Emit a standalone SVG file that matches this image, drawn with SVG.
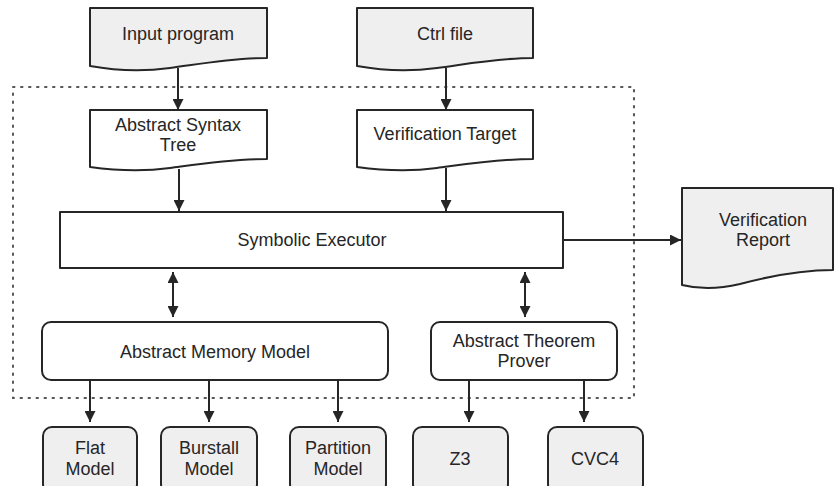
<svg xmlns="http://www.w3.org/2000/svg" width="834" height="486" viewBox="0 0 834 486">
  <style>
    .shape { stroke: #262626; stroke-width: 2; stroke-linejoin: round; }
    .doc { fill: #efefef; }
    .plain { fill: #ffffff; }
    .leaf { fill: #efefef; }
    .label { font-family: "Liberation Sans", Arial, sans-serif; font-size: 18px; fill: #262626; text-anchor: middle; dominant-baseline: central; }
    .edge { stroke: #262626; stroke-width: 2; fill: none; }
    .frame { fill: none; stroke: #555555; stroke-width: 2; stroke-dasharray: 1.5 6.5; stroke-linecap: round; }
  </style>
  <defs>
    <marker id="head" viewBox="0 0 10 10" refX="10" refY="5" markerWidth="5.5" markerHeight="5.5" orient="auto-start-reverse" markerUnits="strokeWidth">
      <path d="M0,0 L10,5 L0,10 Z" fill="#262626"/>
    </marker>
  </defs>

  <rect width="834" height="486" fill="#ffffff"/>

  <!-- dotted boundary of the verifier core -->
  <rect class="frame" x="13" y="87" width="621" height="311"/>

  <g id="input-program">
    <path class="shape doc" d="M90,8 H267 V58 C232,58 200,64 170,68 C140,72 112,70 90,66 Z"/>
    <text class="label" x="178" y="34">Input program</text>
  </g>

  <g id="ctrl-file">
    <path class="shape doc" d="M357,8 H533 V58 C498,58 467,64 437,68 C407,72 379,70 357,66 Z"/>
    <text class="label" x="445" y="34">Ctrl file</text>
  </g>

  <g id="abstract-syntax-tree">
    <path class="shape plain" d="M90,110 H267 V159 C232,159 200,164 170,168 C140,172 112,170 90,167 Z"/>
    <text class="label" x="178" y="125">Abstract Syntax</text>
    <text class="label" x="178" y="145">Tree</text>
  </g>

  <g id="verification-target">
    <path class="shape plain" d="M357,110 H533 V159 C498,159 467,164 437,168 C407,172 379,170 357,167 Z"/>
    <text class="label" x="445" y="134">Verification Target</text>
  </g>

  <g id="symbolic-executor">
    <rect class="shape plain" x="60" y="212" width="503" height="56"/>
    <text class="label" x="312" y="240">Symbolic Executor</text>
  </g>

  <g id="verification-report">
    <path class="shape doc" d="M682,188 H833 V270 C800,270 770,276 740,284 C715,290 698,289 682,285 Z"/>
    <text class="label" x="763" y="220">Verification</text>
    <text class="label" x="763" y="240">Report</text>
  </g>

  <g id="abstract-memory-model">
    <rect class="shape plain" x="42" y="322" width="346" height="58" rx="9"/>
    <text class="label" x="215" y="352">Abstract Memory Model</text>
  </g>

  <g id="abstract-theorem-prover">
    <rect class="shape plain" x="431" y="322" width="186" height="58" rx="9"/>
    <text class="label" x="524" y="341">Abstract Theorem</text>
    <text class="label" x="524" y="361">Prover</text>
  </g>

  <g id="flat-model">
    <rect class="shape leaf" x="43" y="427" width="94" height="66" rx="9"/>
    <text class="label" x="90" y="448">Flat</text>
    <text class="label" x="90" y="469">Model</text>
  </g>

  <g id="burstall-model">
    <rect class="shape leaf" x="161" y="427" width="96" height="66" rx="9"/>
    <text class="label" x="209" y="448">Burstall</text>
    <text class="label" x="209" y="469">Model</text>
  </g>

  <g id="partition-model">
    <rect class="shape leaf" x="290" y="427" width="96" height="66" rx="9"/>
    <text class="label" x="338" y="448">Partition</text>
    <text class="label" x="338" y="469">Model</text>
  </g>

  <g id="z3">
    <rect class="shape leaf" x="413" y="427" width="95" height="66" rx="9"/>
    <text class="label" x="460" y="459">Z3</text>
  </g>

  <g id="cvc4">
    <rect class="shape leaf" x="548" y="427" width="95" height="66" rx="9"/>
    <text class="label" x="595" y="459">CVC4</text>
  </g>

  <g id="connectors">
    <line class="edge" x1="178" y1="68" x2="178" y2="110" marker-end="url(#head)"/>
    <line class="edge" x1="446" y1="68" x2="446" y2="110" marker-end="url(#head)"/>
    <line class="edge" x1="179" y1="169" x2="179" y2="211" marker-end="url(#head)"/>
    <line class="edge" x1="446" y1="168" x2="446" y2="211" marker-end="url(#head)"/>
    <line class="edge" x1="563" y1="240" x2="681" y2="240" marker-end="url(#head)"/>
    <line class="edge" x1="173" y1="272" x2="173" y2="317" marker-start="url(#head)" marker-end="url(#head)"/>
    <line class="edge" x1="525" y1="272" x2="525" y2="317" marker-start="url(#head)" marker-end="url(#head)"/>
    <line class="edge" x1="90" y1="380" x2="90" y2="422" marker-end="url(#head)"/>
    <line class="edge" x1="209" y1="380" x2="209" y2="422" marker-end="url(#head)"/>
    <line class="edge" x1="338" y1="380" x2="338" y2="422" marker-end="url(#head)"/>
    <line class="edge" x1="469" y1="380" x2="469" y2="422" marker-end="url(#head)"/>
    <line class="edge" x1="584" y1="380" x2="584" y2="422" marker-end="url(#head)"/>
  </g>
</svg>
